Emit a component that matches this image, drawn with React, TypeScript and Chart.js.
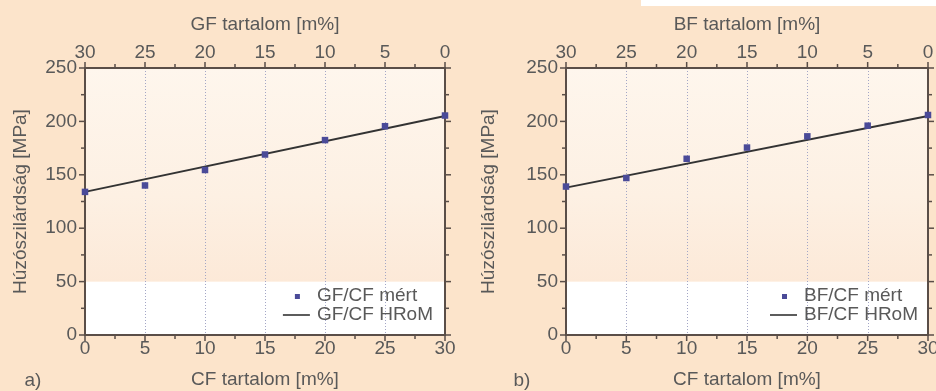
import React, { useEffect, useRef } from "react";
import { Chart, registerables } from "chart.js";

Chart.register(...registerables);

// ---- data ----
const cfContent = [0, 5, 10, 15, 20, 25, 30];
const gfMeasured = [134, 140, 154.5, 169, 182.5, 195.5, 205.5];
const bfMeasured = [139, 147, 165, 175.5, 186, 196, 206];
const modelX = [0, 30];
const gfModel = [134, 205];
const bfModel = [138, 205];
const xMin = 0, xMax = 30, xStep = 5;
const yMin = 0, yMax = 250, yStep = 50;

const FONT = "'Liberation Sans', Arial, Helvetica, sans-serif";
const FS = 19;
const TEXT = "#595959";
const AXIS = "#5a4e48";
const MARK = "#4a4a98";
const LINE = "#333333";

type Panel = {
  tag: string;
  topTitle: string;
  measuredLabel: string;
  modelLabel: string;
  measured: number[];
  model: number[];
  left: number;
  width: number;
  yWidth: number;
  y2Width: number;
  tagX: number;
  legendRight: number;
};

const panels: Panel[] = [
  {
    tag: "a)", topTitle: "GF tartalom [m%]", measuredLabel: "GF/CF mért", modelLabel: "GF/CF HRoM",
    measured: gfMeasured, model: gfModel, left: 0, width: 468, yWidth: 85, y2Width: 23, tagX: 33, legendRight: 12,
  },
  {
    tag: "b)", topTitle: "BF tartalom [m%]", measuredLabel: "BF/CF mért", modelLabel: "BF/CF HRoM",
    measured: bfMeasured, model: bfModel, left: 468, width: 480, yWidth: 98, y2Width: 20, tagX: 54, legendRight: 10,
  },
];

const H = 391;

function makeDecor(p: Panel) {
  return {
    id: "decor",
    beforeDraw(chart: any) {
      const { ctx, chartArea: a, scales } = chart;
      const y50 = scales.y.getPixelForValue(50);
      ctx.save();
      const g = ctx.createLinearGradient(0, a.top, 0, y50);
      g.addColorStop(0, "#fef6ed");
      g.addColorStop(0.6, "#fdf0e3");
      g.addColorStop(1, "#fce9d8");
      ctx.fillStyle = g;
      ctx.fillRect(a.left, a.top, a.right - a.left, y50 - a.top);
      ctx.fillStyle = "#ffffff";
      ctx.fillRect(a.left, y50, a.right - a.left, a.bottom - y50);
      ctx.restore();
    },
    beforeDatasetsDraw(chart: any) {
      const { ctx, chartArea: a, scales } = chart;
      ctx.save();
      // dotted vertical grid
      ctx.strokeStyle = "#a3a6c6";
      ctx.lineWidth = 1;
      ctx.setLineDash([1, 2]);
      for (let v = xMin + xStep; v < xMax; v += xStep) {
        const x = Math.round(scales.x.getPixelForValue(v)) + 0.5;
        ctx.beginPath();
        ctx.moveTo(x, a.top);
        ctx.lineTo(x, a.bottom);
        ctx.stroke();
      }
      ctx.setLineDash([]);
      // ticks
      ctx.strokeStyle = AXIS;
      ctx.lineWidth = 1.5;
      const tick = (x1: number, y1: number, x2: number, y2: number) => {
        ctx.beginPath();
        ctx.moveTo(x1, y1);
        ctx.lineTo(x2, y2);
        ctx.stroke();
      };
      for (let v = xMin; v <= xMax + 1e-9; v += xStep / 2) {
        const major = Math.abs(v / xStep - Math.round(v / xStep)) < 1e-6;
        const len = major ? 6 : 4;
        const xb = scales.x.getPixelForValue(v);
        tick(xb, a.bottom, xb, a.bottom + len);
        const xt = scales.x2.getPixelForValue(v);
        tick(xt, a.top, xt, a.top - len);
      }
      for (let v = yMin; v <= yMax + 1e-9; v += yStep / 2) {
        const major = Math.abs(v / yStep - Math.round(v / yStep)) < 1e-6;
        const len = major ? 6 : 4;
        const yl = scales.y.getPixelForValue(v);
        tick(a.left, yl, a.left - len, yl);
        const yr = scales.y2.getPixelForValue(v);
        tick(a.right, yr, a.right + len, yr);
      }
      // frame
      ctx.lineWidth = 2;
      ctx.strokeRect(a.left, a.top, a.right - a.left, a.bottom - a.top);
      ctx.restore();
    },
    afterDatasetsDraw(chart: any) {
      const { ctx, chartArea: a } = chart;
      ctx.save();
      ctx.font = `${FS}px ${FONT}`;
      ctx.fillStyle = TEXT;
      ctx.textBaseline = "middle";
      const ds = chart.data.datasets;
      const w = Math.max(ctx.measureText(ds[0].label).width, ctx.measureText(ds[1].label).width);
      const tx = a.right - p.legendRight - w;
      const r1 = a.bottom - 39;
      const r2 = a.bottom - 20;
      ctx.textAlign = "left";
      ctx.fillText(ds[0].label, tx, r1);
      ctx.fillText(ds[1].label, tx, r2);
      ctx.fillStyle = MARK;
      ctx.fillRect(tx - 22, r1 - 2, 5, 5);
      ctx.strokeStyle = LINE;
      ctx.lineWidth = 1.6;
      ctx.beginPath();
      ctx.moveTo(tx - 34, r2);
      ctx.lineTo(tx - 7, r2);
      ctx.stroke();
      // panel tag
      ctx.fillStyle = TEXT;
      ctx.textAlign = "center";
      ctx.fillText(p.tag, p.tagX, 381);
      ctx.restore();
    },
  };
}

function PanelChart({ p }: { p: Panel }) {
  const ref = useRef<HTMLCanvasElement>(null);
  useEffect(() => {
    if (!ref.current) return;
    const tickFont = { family: FONT, size: FS };
    const chart = new Chart(ref.current, {
      type: "scatter",
      data: {
        datasets: [
          {
            label: p.measuredLabel,
            data: cfContent.map((x, i) => ({ x, y: p.measured[i] })),
            pointStyle: "rect",
            pointRadius: 4.6,
            pointBackgroundColor: MARK,
            pointBorderColor: MARK,
            pointBorderWidth: 0,
            showLine: false,
            clip: false,
            order: 1,
          },
          {
            label: p.modelLabel,
            data: modelX.map((x, i) => ({ x, y: p.model[i] })),
            showLine: true,
            borderColor: LINE,
            borderWidth: 2,
            pointRadius: 0,
            clip: false,
            order: 2,
          } as any,
        ],
      },
      options: {
        animation: false,
        responsive: false,
        devicePixelRatio: 1,
        layout: { padding: 0 },
        plugins: { legend: { display: false }, tooltip: { enabled: false } },
        scales: {
          x: {
            type: "linear", position: "bottom", min: xMin, max: xMax,
            ticks: { stepSize: xStep, color: TEXT, font: tickFont, padding: 0, maxRotation: 0 },
            grid: { display: false, drawTicks: true, tickLength: 2 },
            border: { display: false },
            title: { display: true, text: "CF tartalom [m%]", color: TEXT, font: tickFont, padding: { top: 0, bottom: 0 } },
            afterFit: (s: any) => { s.height = H - 335; },
          },
          x2: {
            type: "linear", position: "top", min: xMin, max: xMax, reverse: true,
            ticks: { stepSize: xStep, color: TEXT, font: tickFont, padding: 0, maxRotation: 0 },
            grid: { display: false, drawTicks: true, tickLength: 4 },
            border: { display: false },
            title: { display: true, text: p.topTitle, color: TEXT, font: tickFont, padding: { top: 13, bottom: 0 } },
            afterFit: (s: any) => { s.height = 68; },
          },
          y: {
            type: "linear", position: "left", min: yMin, max: yMax,
            ticks: { stepSize: yStep, color: TEXT, font: tickFont, padding: 3 },
            grid: { display: false, drawTicks: true, tickLength: 5 },
            border: { display: false },
            title: { display: true, text: "Húzószilárdság [MPa]", color: TEXT, font: tickFont, padding: { top: 9, bottom: 0 } },
            afterFit: (s: any) => { s.width = p.yWidth; },
          },
          y2: {
            type: "linear", position: "right", min: yMin, max: yMax,
            ticks: { stepSize: yStep, display: false },
            grid: { display: false },
            border: { display: false },
            afterFit: (s: any) => { s.width = p.y2Width; },
          },
        },
      } as any,
      plugins: [makeDecor(p)],
    });
    return () => chart.destroy();
  }, [p]);
  return (
    <canvas
      ref={ref}
      width={p.width}
      height={H}
      style={{ position: "absolute", left: p.left, top: 0, width: p.width, height: H }}
    />
  );
}

export default function App() {
  return (
    <div
      style={{
        position: "fixed", left: 0, top: 0, width: 936, height: H, overflow: "hidden",
        background: "#fce4cb",
      }}
    >
      <div style={{ position: "absolute", left: 641, top: 0, width: 295, height: 6, background: "#ffffff" }} />
      {panels.map((p) => (
        <PanelChart key={p.tag} p={p} />
      ))}
    </div>
  );
}
